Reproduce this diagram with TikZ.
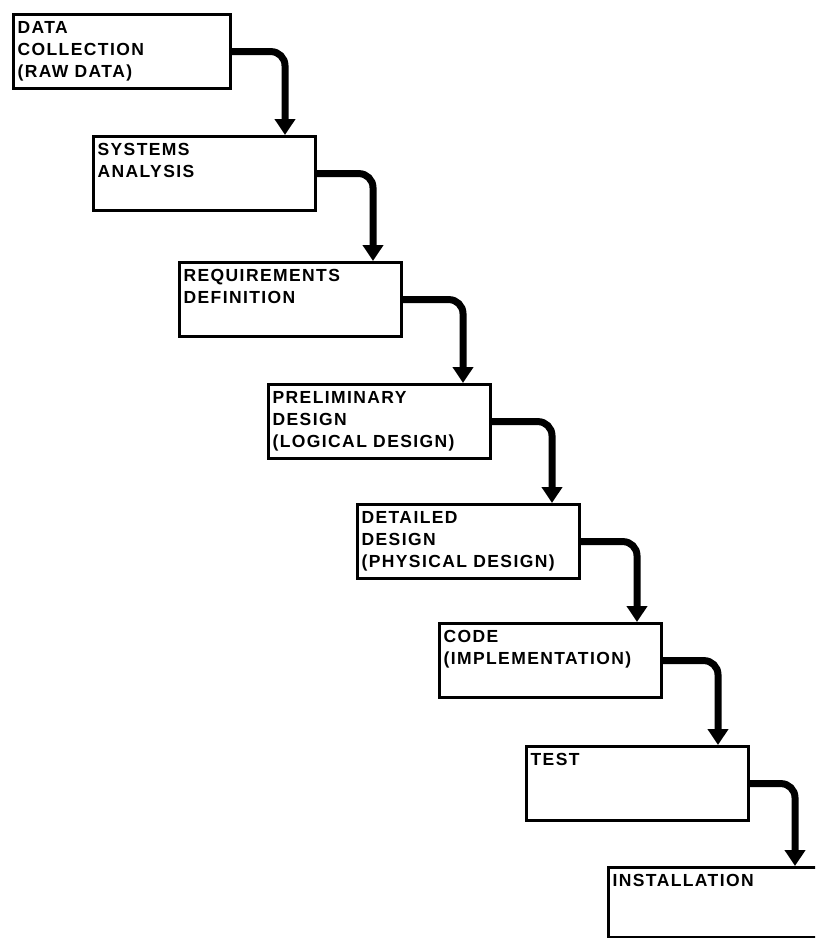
\documentclass[tikz,border=0pt]{standalone}
\usepackage{fontspec}
\usetikzlibrary{arrows.meta}
% letter-spaced bold sans for the stage labels
\newfontfamily\stagefont[LetterSpace=8]{Liberation Sans}
\newlength\stageht
\setlength\stageht{60pt}
\newcommand\stagetext[2][214pt]{\parbox[c][\stageht][t]{#1}{\raggedright\stagefont\bfseries\fontsize{17.5}{22}\selectfont #2}}
\tikzset{
  stage/.style={draw, rectangle, line width=3.2pt, anchor=north west,
    inner xsep=4pt, inner ysep=7pt, minimum width=222pt, minimum height=74pt},
  flow/.style={line width=7pt, rounded corners=14pt,
    -{Triangle[width=20pt,length=16pt]}},
}
\begin{document}
\begin{tikzpicture}[x=1pt,y=-1pt]
  \useasboundingbox (0,0) rectangle (815,938);
  \clip (0,0) rectangle (815,938);

  % stages of the life cycle, stepping down to the right
  \node[stage, minimum width=217pt] (collect) at (12,13)
    {\stagetext[209pt]{DATA\\COLLECTION\\(RAW DATA)}};
  \node[stage] (analysis) at (92,135) {\stagetext{SYSTEMS\\ANALYSIS}};
  \node[stage] (reqs)    at (178,261) {\stagetext{REQUIREMENTS\\DEFINITION}};
  \node[stage] (prelim)  at (267,383) {\stagetext{PRELIMINARY\\DESIGN\\(LOGICAL DESIGN)}};
  \node[stage] (detail)  at (356,503) {\stagetext{DETAILED\\DESIGN\\(PHYSICAL DESIGN)}};
  \node[stage] (code)    at (438,622) {\stagetext{CODE\\(IMPLEMENTATION)}};
  \node[stage] (test)    at (525,745) {\stagetext{TEST}};
  \node[stage, minimum height=70pt] (install) at (607,866)
    {\setlength\stageht{56pt}\stagetext{INSTALLATION}};

  % connectors: out of the right side, round the corner, down onto the next stage
  \draw[flow] (collect.east)  -| ([xshift=193pt]analysis.north west);
  \draw[flow] (analysis.east) -| ([xshift=195pt]reqs.north west);
  \draw[flow] (reqs.east)     -| ([xshift=196pt]prelim.north west);
  \draw[flow] (prelim.east)   -| ([xshift=196pt]detail.north west);
  \draw[flow] (detail.east)   -| ([xshift=199pt]code.north west);
  \draw[flow] (code.east)     -| ([xshift=193pt]test.north west);
  \draw[flow] (test.east)     -| ([xshift=188pt]install.north west);
\end{tikzpicture}
\end{document}
